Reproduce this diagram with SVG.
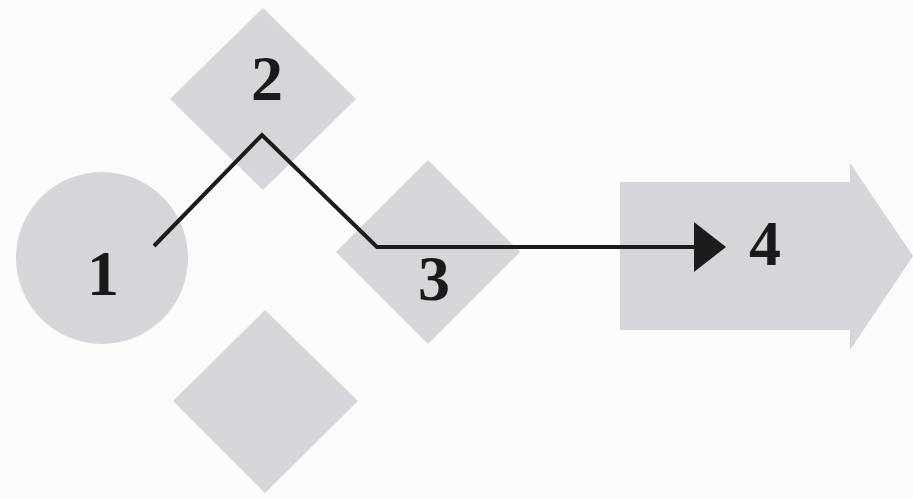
<svg xmlns="http://www.w3.org/2000/svg" width="913" height="499" viewBox="0 0 913 499">
  <defs>
    <style>
      .shape { fill: #d5d5da; }
      .label { font-family: "Liberation Serif", "Times New Roman", serif; font-weight: bold; font-size: 64px; fill: #1a1a1a; text-anchor: middle; }
      .link { fill: none; stroke: #1c1c1c; stroke-width: 4; stroke-linejoin: miter; }
    </style>
    <marker id="arrow" viewBox="0 0 32 50" refX="30" refY="25" markerWidth="32" markerHeight="50" markerUnits="userSpaceOnUse" orient="auto">
      <path d="M0,0 L32,25 L0,50 Z" fill="#1c1c1c"/>
    </marker>
  </defs>
  <rect width="913" height="499" fill="#fbfbf9"/>

  <g id="node-1">
    <circle class="shape" cx="102" cy="258" r="86"/>
    <text class="label" x="103" y="295">1</text>
  </g>

  <g id="node-2">
    <polygon class="shape" points="263,8 356,99 263,190 170,99"/>
    <text class="label" x="267" y="100">2</text>
  </g>

  <g id="node-3">
    <polygon class="shape" points="428,160 520,252 428,344 336,252"/>
    <text class="label" x="434" y="300">3</text>
  </g>

  <g id="node-5">
    <polygon class="shape" points="265,310 358,401 265,493 173,401"/>
  </g>

  <g id="node-4">
    <polygon class="shape" points="620,182 850,182 850,163 913,256 850,350 850,330 620,330"/>
    <text class="label" x="765" y="265">4</text>
  </g>

  <g id="connectors">
    <polyline class="link" points="154,246 262,135 377,247 724,247" marker-end="url(#arrow)"/>
  </g>
</svg>
